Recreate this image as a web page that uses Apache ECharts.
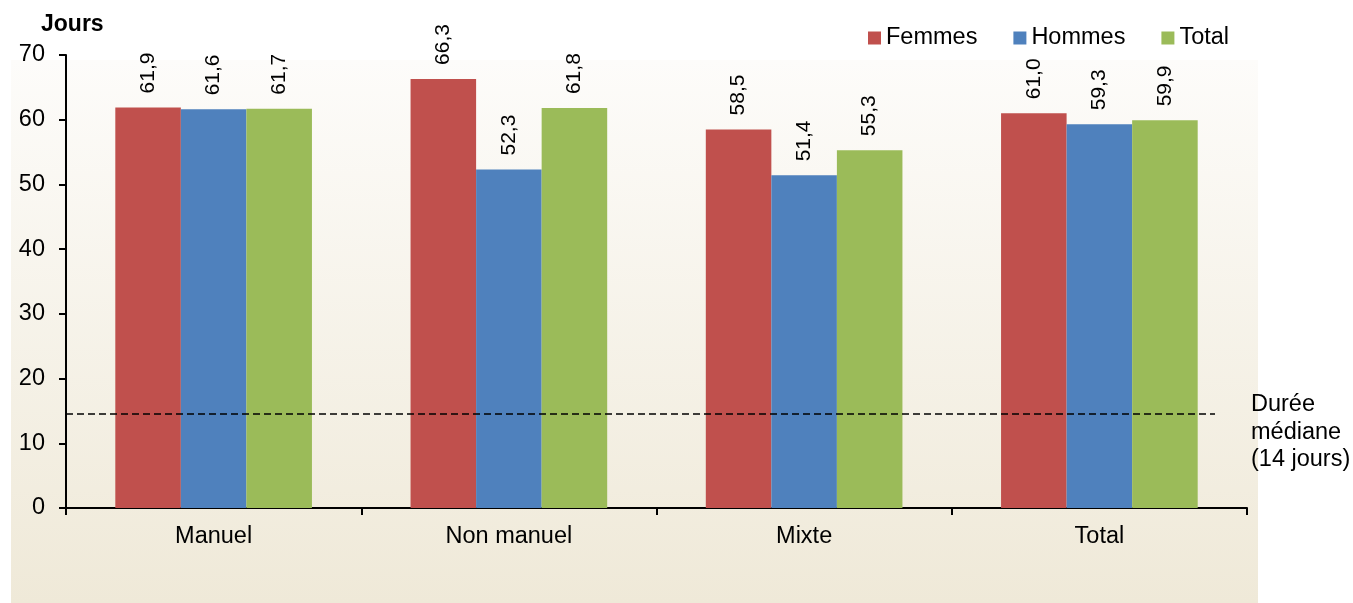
<!DOCTYPE html>
<html>
<head>
<meta charset="utf-8">
<script src="https://cdn.jsdelivr.net/npm/echarts@6/dist/echarts.min.js"></script>
<style>
  html, body { margin: 0; padding: 0; background: #fff; }
  #chart { width: 1353px; height: 603px; }
</style>
</head>
<body>
<div id="chart"></div>
<script>
// data
const categories = ["Manuel", "Non manuel", "Mixte", "Total"];
const femmes = [61.9, 66.3, 58.5, 61.0];
const hommes = [61.6, 52.3, 51.4, 59.3];
const total = [61.7, 61.8, 55.3, 59.9];
const yTicks = [0, 10, 20, 30, 40, 50, 60, 70];
const medianLine = 14.5;

const font = "Liberation Sans, Arial, sans-serif";
const fmt = p => p.value.toFixed(1).replace(".", ",");

const barLabel = {
  show: true,
  position: "top",
  rotate: 90,
  align: "left",
  verticalAlign: "middle",
  distance: 14,
  fontFamily: font,
  fontSize: 21,
  color: "#000",
  formatter: fmt
};

function bar(name, data, color) {
  return {
    name: name,
    type: "bar",
    data: data,
    barGap: "0%",
    barCategoryGap: "33.4%",
    itemStyle: { color: color },
    label: barLabel
  };
}

const series = [
  bar("Femmes", femmes, "#C0504D"),
  bar("Hommes", hommes, "#4F81BD"),
  bar("Total", total, "#9BBB59")
];
series[0].markLine = {
  silent: true,
  symbol: "none",
  label: { show: false },
  lineStyle: { color: "#000", type: [7, 4], width: 1.6 },
  data: [[{ x: 66, yAxis: medianLine }, { x: 1215, yAxis: medianLine }]]
};

const option = {
  animation: false,
  textStyle: { fontFamily: font },
  title: {
    text: "Jours",
    left: 36,
    top: 8,
    textStyle: { fontFamily: font, fontSize: 23, fontWeight: "bold", color: "#000" }
  },
  legend: {
    left: 863,
    top: 21,
    itemWidth: 13,
    itemHeight: 13,
    itemGap: 36,
    icon: "rect",
    textStyle: { fontFamily: font, fontSize: 23.5, color: "#000" },
    data: ["Femmes", "Hommes", "Total"]
  },
  graphic: [
    {
      type: "rect",
      z: -10,
      silent: true,
      shape: { x: 11, y: 60, width: 1247, height: 543 },
      style: {
        fill: new echarts.graphic.LinearGradient(0, 0, 0, 1, [
          { offset: 0, color: "#FDFCFA" },
          { offset: 1, color: "#EFE9D8" }
        ])
      }
    },
    {
      type: "text",
      left: 1251,
      top: 391,
      silent: true,
      style: {
        text: "Durée\nmédiane\n(14 jours)",
        fontFamily: font,
        fontSize: 23.5,
        lineHeight: 27.5,
        fill: "#000"
      }
    }
  ],
  grid: { left: 66, right: 106, top: 55, bottom: 95, containLabel: false },
  xAxis: {
    type: "category",
    data: categories,
    axisLine: { show: true, lineStyle: { color: "#000", width: 2 } },
    axisTick: { show: true, length: 7, lineStyle: { color: "#000", width: 2 } },
    axisLabel: { fontFamily: font, fontSize: 23.5, color: "#000", margin: 17 }
  },
  yAxis: {
    type: "value",
    min: yTicks[0],
    max: yTicks[yTicks.length - 1],
    interval: 10,
    splitLine: { show: false },
    axisLine: { show: true, lineStyle: { color: "#000", width: 2 } },
    axisTick: { show: true, length: 7, lineStyle: { color: "#000", width: 2 } },
    axisLabel: { fontFamily: font, fontSize: 23.5, color: "#000", margin: 21 }
  },
  series: series
};

const chart = echarts.init(document.getElementById("chart"));
chart.setOption(option);
</script>
</body>
</html>
